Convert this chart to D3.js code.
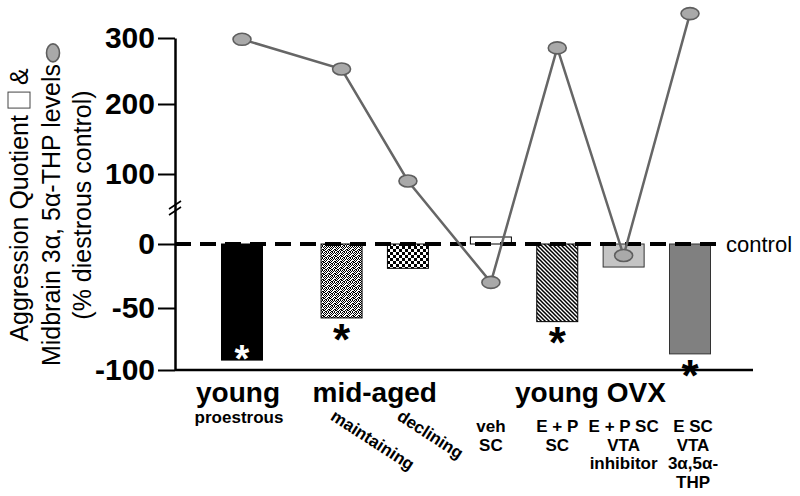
<!DOCTYPE html>
<html><head><meta charset="utf-8">
<script src="https://cdn.jsdelivr.net/npm/d3@7"></script>
<style>body{margin:0;background:#fff}svg{display:block}text{font-family:"Liberation Sans",Arial,sans-serif}</style>
</head><body><svg id="c" width="800" height="496"></svg>
<script>
// ---------------- data ----------------
const categories = ["young proestrous","mid-aged maintaining","mid-aged declining","young OVX veh SC","young OVX E + P SC","young OVX E + P SC VTA inhibitor","young OVX E SC VTA 3α,5α-THP"];
const groups = ["young","mid-aged","young OVX"];
const groupIndex = [0,1,1,2,2,2,2];
const subLabels = [["proestrous"],["maintaining"],["declining"],["veh","SC"],["E + P","SC"],["E + P SC","VTA","inhibitor"],["E SC","VTA","3α,5α-","THP"]];
const aggressionQuotient = [-92,-58,-19,10,-61,-18,-87];
const thpLevels = [298,253,90,-30,285,-9,337];
const significant = [true,true,false,false,true,false,true];
const yTicks = [300,200,100,0,-50,-100];

// ---------------- layout ----------------
const svg = d3.select("#c");
const defs = svg.append("defs");
const groupGap = [0,0.5,0.75];
const slot = i => i + groupGap[groupIndex[i]];
const x = d3.scaleLinear().domain([0, slot(categories.length-1)]).range([242,690]);
const y = d3.scaleLinear().domain([-100,-50,0,100,200,300]).range([370,308,244,174,104,38]);
const axisX = 175, barW = 41;

// patterns
const stip = defs.append("pattern").attr("id","stipple").attr("patternUnits","userSpaceOnUse").attr("width",6).attr("height",6);
stip.append("rect").attr("width",6).attr("height",6).attr("fill","#fff");
[[0,0],[2,0],[4,0],[1,1],[5,1],[3,1],[0,2],[2,2],[4,3],[1,3],[3,4],[5,4],[0,4],[2,5],[4,5],[5,3],[1,5]].forEach(p=>
  stip.append("rect").attr("x",p[0]).attr("y",p[1]).attr("width",1).attr("height",1).attr("fill","#000"));
const chk = defs.append("pattern").attr("id","checker").attr("patternUnits","userSpaceOnUse").attr("width",6).attr("height",6);
chk.append("rect").attr("width",6).attr("height",6).attr("fill","#fff");
chk.append("rect").attr("width",3).attr("height",3).attr("fill","#000");
chk.append("rect").attr("x",3).attr("y",3).attr("width",3).attr("height",3).attr("fill","#000");
const hat = defs.append("pattern").attr("id","hatch").attr("patternUnits","userSpaceOnUse").attr("width",4).attr("height",4);
hat.append("rect").attr("width",4).attr("height",4).attr("fill","#fff");
hat.append("path").attr("d","M-1,-1L5,5M-1,3L1,5M3,-1L5,1").attr("stroke","#000").attr("stroke-width",1.5);

const fills = ["#000","url(#stipple)","url(#checker)","#fff","url(#hatch)","#c4c4c4","#808080"];

// bars
svg.append("g").selectAll("rect").data(aggressionQuotient).join("rect")
  .attr("x",(d,i)=>x(slot(i))-barW/2)
  .attr("y",d=>Math.min(y(d),y(0)))
  .attr("width",barW)
  .attr("height",d=>Math.abs(y(d)-y(0)))
  .attr("fill",(d,i)=>fills[i])
  .attr("stroke",(d,i)=>i>=5?"#333":"#000")
  .attr("stroke-width",1);

// zero dashed line
svg.append("line").attr("x1",axisX).attr("x2",722).attr("y1",y(0)).attr("y2",y(0))
  .attr("stroke","#000").attr("stroke-width",4).attr("stroke-dasharray","16,9");
svg.append("text").attr("x",726).attr("y",y(0)).attr("dy","0.35em").attr("font-size",22).text("control");

// y axis
const ax = svg.append("g").attr("transform",`translate(${axisX},0)`)
  .call(d3.axisLeft(y).tickValues(yTicks).tickSize(17).tickSizeOuter(0).tickPadding(3).tickFormat(d=>String(d)));
ax.select(".domain").attr("stroke","#000").attr("stroke-width",2.5);
ax.selectAll(".tick line").attr("stroke","#000").attr("stroke-width",2);
ax.selectAll(".tick text").attr("fill","#000").attr("font-size",30).attr("font-weight","bold")
  .style("font-family",'"Liberation Sans",Arial,sans-serif');
// break marks
[205,211].forEach(yy=>svg.append("line").attr("x1",axisX-6).attr("x2",axisX+6).attr("y1",yy+4).attr("y2",yy-4)
  .attr("stroke","#000").attr("stroke-width",1.6));

// bottom line
svg.append("line").attr("x1",axisX).attr("x2",753).attr("y1",y(-100)).attr("y2",y(-100))
  .attr("stroke","#000").attr("stroke-width",2.5);

// THP line + points
const line = d3.line().x((d,i)=>x(slot(i))).y(d=>y(d));
svg.append("path").datum(thpLevels).attr("d",line).attr("fill","none").attr("stroke","#666").attr("stroke-width",2.5);
svg.append("g").selectAll("ellipse").data(thpLevels).join("ellipse")
  .attr("cx",(d,i)=>x(slot(i))).attr("cy",d=>y(d)).attr("rx",9).attr("ry",6)
  .attr("fill","#a9a9a9").attr("stroke","#5e5e5e").attr("stroke-width",1.6);

// asterisks
aggressionQuotient.forEach((v,i)=>{
  if(!significant[i]) return;
  const inside = i===0;
  const cy = inside ? y(v)-9 : y(v)+12;
  const fs = inside ? 38 : 44;
  svg.append("text").attr("x",x(slot(i))).attr("y",cy+fs*0.56).attr("text-anchor","middle")
    .attr("font-size",fs).attr("font-weight","bold").attr("fill",inside?"#fff":"#000").text("*");
});

// group labels
groups.forEach((g,gi)=>{
  const idx = groupIndex.map((d,i)=>d===gi?i:-1).filter(i=>i>=0);
  const cx = d3.mean(idx,i=>x(slot(i))) - (gi===0?4:0);
  svg.append("text").attr("x",cx).attr("y",402).attr("text-anchor","middle")
    .attr("font-size",28).attr("font-weight","bold").text(g);
});
// sub labels
subLabels.forEach((lines,i)=>{
  const cx = x(slot(i));
  if(groupIndex[i]===1){
    svg.append("text").attr("transform",`translate(${cx-12},${419}) rotate(33)`)
      .attr("font-size",17).attr("font-weight","bold").text(lines[0]);
  } else if(groupIndex[i]===0){
    svg.append("text").attr("x",cx-3).attr("y",423).attr("text-anchor","middle")
      .attr("font-size",17).attr("font-weight","bold").text(lines[0]);
  } else {
    const t = svg.append("text").attr("text-anchor","middle").attr("font-size",17).attr("font-weight","bold");
    lines.forEach((l,k)=>t.append("tspan").attr("x",cx+ (i===6?3:0)).attr("y",432+k*18.5).text(l));
  }
});

// y title (rotated, with inline legend symbols)
function titleLine(baseX, parts){
  const g = svg.append("g").attr("transform",`translate(${baseX},205) rotate(-90)`);
  let pos = 0;
  parts.forEach(p=>{
    if(p.text!==undefined){
      const t = g.append("text").attr("x",pos).attr("y",0).attr("font-size",25).text(p.text);
      pos += t.node().getComputedTextLength();
    } else if(p.gap){
      pos += p.gap;
    } else if(p.box){
      g.append("rect").attr("x",pos).attr("y",-20).attr("width",16).attr("height",22).attr("fill","#fff").attr("stroke","#444").attr("stroke-width",1);
      pos += 16;
    } else if(p.ell){
      g.append("ellipse").attr("cx",pos+10).attr("cy",-7).attr("rx",9).attr("ry",6.5).attr("fill","#a9a9a9").attr("stroke","#5e5e5e").attr("stroke-width",1.6);
      pos += 19;
    }
  });
  g.selectAll("*").attr("transform",`translate(${-pos/2},0)`);
}
titleLine(28,[{text:"Aggression Quotient"},{gap:7},{box:true},{gap:7},{text:"&"}]);
titleLine(60,[{text:"Midbrain 3α, 5α-THP levels"},{gap:1},{ell:true}]);
titleLine(91,[{text:"(% diestrous control)"}]);
</script></body></html>
